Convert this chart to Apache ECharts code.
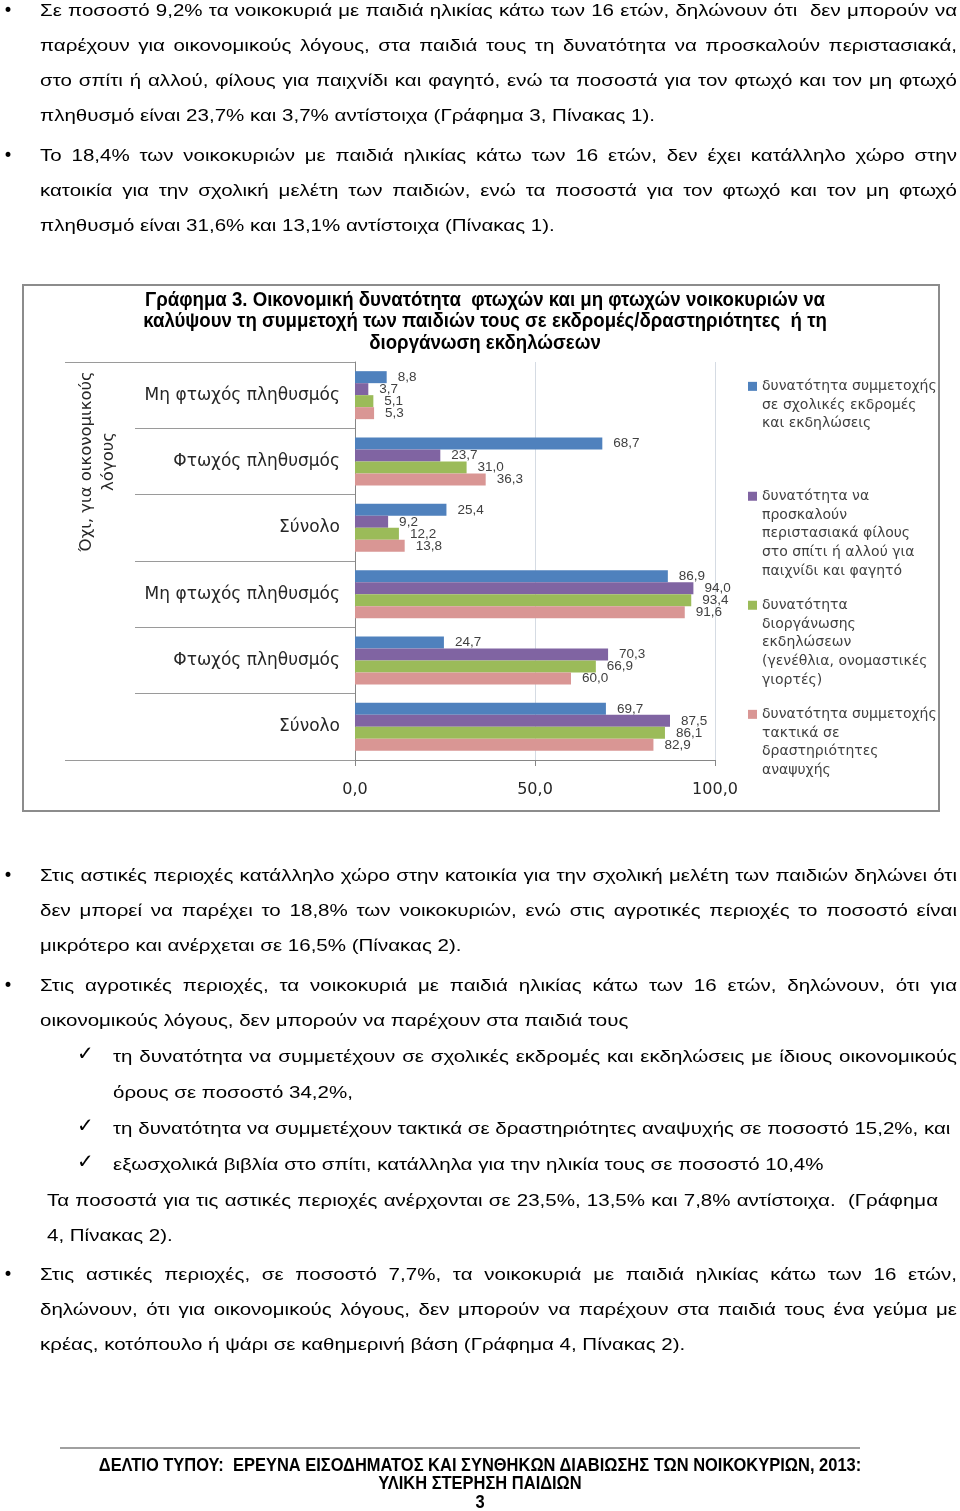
<!DOCTYPE html>
<html>
<head>
<meta charset="utf-8">
<script src="https://cdn.jsdelivr.net/npm/echarts@6/dist/echarts.min.js"></script>
<style>
  html, body { margin: 0; padding: 0; background: #fff; }
  #page { position: relative; width: 960px; height: 1511px; overflow: hidden; }
  #chart-container { position: absolute; left: 0; top: 0; width: 960px; height: 1511px; }
  .ln { position: absolute; font-family: 'Liberation Sans'; font-size: 17px;
        line-height: 35px; height: 35px; color: #000; white-space: pre; z-index: 2;
        transform-origin: 0 50%; }
  .mark { position: absolute; z-index: 2; font-family: 'DejaVu Sans', sans-serif; line-height: 35px; height: 35px; }
  .foot { position: absolute; left: 0; width: 960px; text-align: center; z-index: 2; white-space: pre;
          font-family: 'Liberation Sans'; font-weight: bold; font-size: 18px; line-height: 18px;
          transform-origin: 480px 50%; }
</style>
</head>
<body>
<div id="page">
  <div id="chart-container"></div>
  <div id="text"></div>
</div>
<script>
// page text, one entry per printed line: [text, left, right, centerY, justify]
var bodyLines = [
  ['Σε ποσοστό 9,2% τα νοικοκυριά με παιδιά ηλικίας κάτω των 16 ετών, δηλώνουν ότι  δεν μπορούν να', 40, 957, 10, true],
  ['παρέχουν για οικονομικούς λόγους, στα παιδιά τους τη δυνατότητα να προσκαλούν περιστασιακά,', 40, 957, 45, true],
  ['στο σπίτι ή αλλού, φίλους για παιχνίδι και φαγητό, ενώ τα ποσοστά για τον φτωχό και τον μη φτωχό', 40, 957, 80, true],
  ['πληθυσμό είναι 23,7% και 3,7% αντίστοιχα (Γράφημα 3, Πίνακας 1).', 40, 957, 115, false],
  ['Το 18,4% των νοικοκυριών με παιδιά ηλικίας κάτω των 16 ετών, δεν έχει κατάλληλο χώρο στην', 40, 957, 155, true],
  ['κατοικία για την σχολική μελέτη των παιδιών, ενώ τα ποσοστά για τον φτωχό και τον μη φτωχό', 40, 957, 190, true],
  ['πληθυσμό είναι 31,6% και 13,1% αντίστοιχα (Πίνακας 1).', 40, 957, 225, false],
  ['Στις αστικές περιοχές κατάλληλο χώρο στην κατοικία για την σχολική μελέτη των παιδιών δηλώνει ότι', 40, 957, 875, true],
  ['δεν μπορεί να παρέχει το 18,8% των νοικοκυριών, ενώ στις αγροτικές περιοχές το ποσοστό είναι', 40, 957, 910, true],
  ['μικρότερο και ανέρχεται σε 16,5% (Πίνακας 2).', 40, 957, 945, false],
  ['Στις αγροτικές περιοχές, τα νοικοκυριά με παιδιά ηλικίας κάτω των 16 ετών, δηλώνουν, ότι για', 40, 957, 985, true],
  ['οικονομικούς λόγους, δεν μπορούν να παρέχουν στα παιδιά τους', 40, 957, 1020, false],
  ['τη δυνατότητα να συμμετέχουν σε σχολικές εκδρομές και εκδηλώσεις με ίδιους οικονομικούς', 113, 957, 1056, true],
  ['όρους σε ποσοστό 34,2%,', 113, 957, 1092, false],
  ['τη δυνατότητα να συμμετέχουν τακτικά σε δραστηριότητες αναψυχής σε ποσοστό 15,2%, και', 113, 957, 1128, false],
  ['εξωσχολικά βιβλία στο σπίτι, κατάλληλα για την ηλικία τους σε ποσοστό 10,4%', 113, 957, 1164, false],
  ['Τα ποσοστά για τις αστικές περιοχές ανέρχονται σε 23,5%, 13,5% και 7,8% αντίστοιχα.  (Γράφημα', 47, 938, 1200, true],
  ['4, Πίνακας 2).', 47, 938, 1235, false],
  ['Στις αστικές περιοχές, σε ποσοστό 7,7%, τα νοικοκυριά με παιδιά ηλικίας κάτω των 16 ετών,', 40, 957, 1274, true],
  ['δηλώνουν, ότι για οικονομικούς λόγους, δεν μπορούν να παρέχουν στα παιδιά τους ένα γεύμα με', 40, 957, 1309, true],
  ['κρέας, κοτόπουλο ή ψάρι σε καθημερινή βάση (Γράφημα 4, Πίνακας 2).', 40, 957, 1344, false]
];
var bulletYs = [10, 155, 875, 985, 1274];
var checkYs = [1056, 1128, 1164];
var footLines = [
  ['ΔΕΛΤΙΟ ΤΥΠΟΥ:  ΕΡΕΥΝΑ ΕΙΣΟΔΗΜΑΤΟΣ ΚΑΙ ΣΥΝΘΗΚΩΝ ΔΙΑΒΙΩΣΗΣ ΤΩΝ ΝΟΙΚΟΚΥΡΙΩΝ, 2013:', 1465],
  ['ΥΛΙΚΗ ΣΤΕΡΗΣΗ ΠΑΙΔΙΩΝ', 1483],
  ['3', 1502]
];

// chart data
var titleLines = [
  'Γράφημα 3. Οικονομική δυνατότητα  φτωχών και μη φτωχών νοικοκυριών να',
  'καλύψουν τη συμμετοχή των παιδιών τους σε εκδρομές/δραστηριότητες  ή τη',
  'διοργάνωση εκδηλώσεων'
];
var groups = ['Όχι, για οικονομικούς\nλόγους', 'Ναι'];
var categories = ['Μη φτωχός πληθυσμός', 'Φτωχός πληθυσμός', 'Σύνολο',
                  'Μη φτωχός πληθυσμός', 'Φτωχός πληθυσμός', 'Σύνολο'];
var seriesNames = [
  'δυνατότητα συμμετοχής\nσε σχολικές εκδρομές\nκαι εκδηλώσεις',
  'δυνατότητα να\nπροσκαλούν\nπεριστασιακά φίλους\nστο σπίτι ή αλλού για\nπαιχνίδι και φαγητό',
  'δυνατότητα\nδιοργάνωσης\nεκδηλώσεων\n(γενέθλια, ονομαστικές\nγιορτές)',
  'δυνατότητα συμμετοχής\nτακτικά σε\nδραστηριότητες\nαναψυχής'
];
var excursions = [8.8, 68.7, 25.4, 86.9, 24.7, 69.7];
var invitations = [3.7, 23.7, 9.2, 94.0, 70.3, 87.5];
var parties = [5.1, 31.0, 12.2, 93.4, 66.9, 86.1];
var leisure = [5.3, 36.3, 13.8, 91.6, 60.0, 82.9];
var seriesColors = ['#4F81BD', '#8064A2', '#9BBB59', '#D99694'];

// text measuring, used to stretch the text to its printed width
var ctx = document.createElement('canvas').getContext('2d');
function textWidth(t, font) {
  ctx.font = font;
  return ctx.measureText(t).width;
}

var bodyFont = '17px "Liberation Sans"';
var bodyScale = 615 / textWidth(bodyLines[3][0], bodyFont);

var textBox = document.getElementById('text');
bodyLines.forEach(function (l) {
  var d = document.createElement('div');
  d.className = 'ln';
  d.style.left = l[1] + 'px';
  d.style.top = (l[3] - 17.5) + 'px';
  d.style.transform = 'scaleX(' + bodyScale + ')';
  if (l[4]) {
    var avail = (l[2] - l[1]) / bodyScale;
    var nat = textWidth(l[0], bodyFont);
    var spaces = l[0].split(' ').length - 1;
    d.style.wordSpacing = ((avail - nat) / spaces) + 'px';
  }
  d.textContent = l[0];
  textBox.appendChild(d);
});
bulletYs.forEach(function (y) {
  var d = document.createElement('div');
  d.className = 'mark';
  d.style.left = '3px';
  d.style.top = (y - 17.5) + 'px';
  d.style.fontSize = '17px';
  d.textContent = '•';
  textBox.appendChild(d);
});
checkYs.forEach(function (y) {
  var d = document.createElement('div');
  d.className = 'mark';
  d.style.left = '77px';
  d.style.top = (y - 20) + 'px';
  d.style.fontSize = '20px';
  d.textContent = '✓';
  textBox.appendChild(d);
});
var footScale = 763 / textWidth(footLines[0][0], 'bold 18px "Liberation Sans"');
footLines.forEach(function (f) {
  var d = document.createElement('div');
  d.className = 'foot';
  d.style.top = (f[1] - 9) + 'px';
  d.style.transform = 'scaleX(' + footScale + ')';
  d.textContent = f[0];
  textBox.appendChild(d);
});

function fmt(v) {
  return v.toFixed(1).replace('.', ',');
}

var myChart = echarts.init(document.getElementById('chart-container'));

var titleScale = 680 / textWidth(titleLines[0], 'bold 21px "Liberation Sans"');

var lineH = 18.7;
var legendTops = [377, 487, 596, 705];
var legends = seriesNames.map(function (name, i) {
  var n = name.split('\n').length;
  var h = n * lineH;
  var c = lineH / 2;
  return {
    left: 748,
    top: legendTops[i],
    padding: 0,
    orient: 'vertical',
    data: [name],
    itemWidth: 9,
    itemHeight: h,
    itemGap: 0,
    icon: 'path://M0,0M0,' + (c - 4.5) + 'L9,' + (c - 4.5) + 'L9,' + (c + 4.5) + 'L0,' + (c + 4.5) + 'ZM9,' + h,
    textStyle: {
      fontFamily: 'DejaVu Sans',
      fontSize: 14,
      lineHeight: lineH,
      color: '#404040'
    }
  };
});

var seriesData = [excursions, invitations, parties, leisure];

option = {
  animation: false,
  backgroundColor: '#fff',
  legend: legends,
  graphic: [
    {
      type: 'rect',
      shape: { x: 23, y: 285, width: 916, height: 526 },
      style: { fill: 'none', stroke: '#8c8c8c', lineWidth: 2 }
    },
    {
      type: 'text',
      x: 485,
      y: 289,
      scaleX: titleScale,
      style: {
        text: titleLines.join('\n'),
        align: 'center',
        verticalAlign: 'top',
        fontFamily: 'Liberation Sans',
        fontWeight: 'bold',
        fontSize: 21,
        lineHeight: 21.5,
        fill: '#000'
      }
    },
    {
      type: 'line',
      shape: { x1: 60, y1: 1448, x2: 860, y2: 1448 },
      style: { stroke: '#a0a0a0', lineWidth: 2 }
    }
  ],
  grid: {
    left: 355,
    top: 362,
    width: 360,
    height: 398,
    containLabel: false,
    outerBoundsMode: 'none'
  },
  xAxis: {
    type: 'value',
    min: 0,
    max: 100,
    interval: 50,
    axisLine: { show: true, lineStyle: { color: '#868686', width: 1 } },
    axisTick: { show: true, length: 6, lineStyle: { color: '#868686' } },
    splitLine: { show: true, lineStyle: { color: '#d5dbe3', width: 1 } },
    axisLabel: {
      margin: 22,
      fontFamily: 'DejaVu Sans',
      fontSize: 16,
      color: '#262626',
      formatter: function (v) { return fmt(v); }
    }
  },
  yAxis: [
    {
      type: 'category',
      position: 'left',
      inverse: true,
      data: categories,
      axisLine: { show: true, lineStyle: { color: '#868686', width: 1 } },
      axisTick: { show: true, length: 220, lineStyle: { color: '#9a9a9a' } },
      axisLabel: {
        margin: 15,
        fontFamily: 'DejaVu Sans',
        fontSize: 17,
        color: '#262626'
      }
    },
    {
      type: 'category',
      position: 'left',
      inverse: true,
      data: groups,
      axisLine: { show: false },
      axisTick: { show: true, length: 290, lineStyle: { color: '#9a9a9a' } },
      axisLabel: {
        margin: 235,
        rotate: 90,
        fontFamily: 'DejaVu Sans',
        fontSize: 16.5,
        lineHeight: 22,
        color: '#262626'
      }
    }
  ],
  series: seriesNames.map(function (name, i) {
    return {
      name: name,
      type: 'bar',
      yAxisIndex: 0,
      data: seriesData[i],
      barWidth: 12,
      barGap: '0%',
      itemStyle: { color: seriesColors[i] },
      label: {
        show: true,
        position: 'right',
        distance: 11,
        fontFamily: 'Liberation Sans',
        fontSize: 13.5,
        color: '#404040',
        formatter: function (p) { return fmt(p.value); }
      }
    };
  })
};

myChart.setOption(option);
</script>
</body>
</html>
